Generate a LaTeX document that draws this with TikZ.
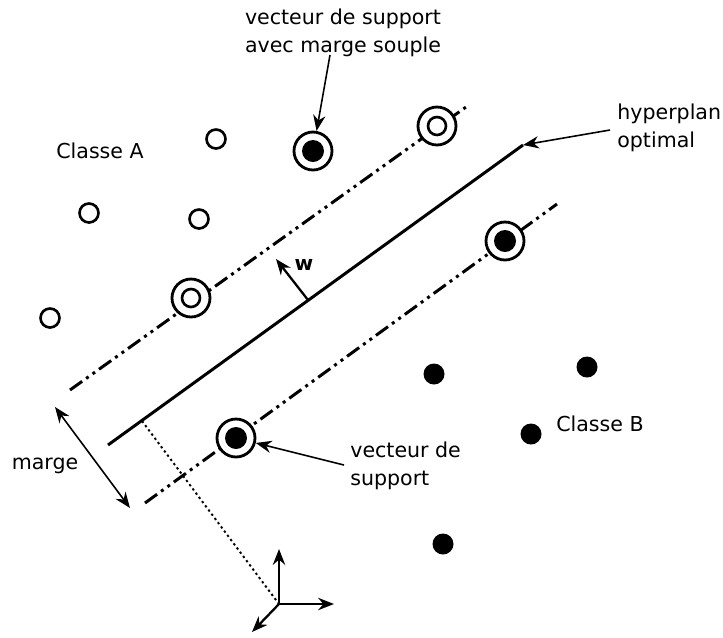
\documentclass[tikz,border=0pt]{standalone}
\usepackage{fontspec}
\setmainfont{DejaVu Sans}
\usetikzlibrary{arrows.meta}
\begin{document}
\begin{tikzpicture}[x=0.02cm,y=-0.02cm,
  lbl/.style={font=\fontsize{11.7}{16}\selectfont, align=left, inner sep=0pt},
  svout/.style={circle, draw, line width=1.6pt, minimum size=0.76cm, inner sep=0pt},
  svin/.style={circle, draw, line width=1.5pt, minimum size=0.36cm, inner sep=0pt},
  svfill/.style={circle, fill, minimum size=0.44cm, inner sep=0pt},
  opn/.style={circle, draw, line width=1.5pt, minimum size=0.38cm, inner sep=0pt, fill=white},
  full/.style={circle, fill, minimum size=0.42cm, inner sep=0pt},
  marginline/.style={line width=1.7pt, dash pattern=on 8.5pt off 2.8pt on 1.7pt off 2.8pt on 1.7pt off 2.8pt},
  thinarrow/.style={-{Stealth[length=9pt,width=7pt]}, line width=0.9pt},
  axarrow/.style={-{Stealth[length=9pt,width=7pt]}, line width=1.3pt}]
\useasboundingbox (0,0) rectangle (723,637);
% lines
\coordinate (u1) at (70,390); \coordinate (u2) at (466,107);
\coordinate (h1) at (108,445); \coordinate (h2) at (523,145);
\coordinate (l1) at (145,503); \coordinate (l2) at (557,204);
\draw[marginline] (u1) -- (u2);
\draw[marginline] (l1) -- (l2);
\draw[line width=1.7pt] (h1) -- (h2);
% dotted perpendicular
\coordinate (d1) at (142,421);
\coordinate (o) at (279,604);
\draw[line width=1.1pt, dash pattern=on 1.3pt off 1.7pt] (d1) -- (o);
% w
\coordinate (wb) at (308,300); \coordinate (wt) at (276,259);
\draw[axarrow] (wb) -- (wt);
\node[font=\fontsize{11.5}{12}\selectfont\bfseries, inner sep=0pt] (w) at (304,265) {w};
% support vectors
\node[svout, fill=white] (sa1) at (191,298) {};
\node[svin] (sa1i) at (191,298) {};
\node[svout, fill=white] (sa2) at (437,126) {};
\node[svin] (sa2i) at (437,126) {};
\node[svout, fill=white] (sb1) at (236,438) {};
\node[svfill] (sb1i) at (236,438) {};
\node[svout, fill=white] (sb2) at (505,241) {};
\node[svfill] (sb2i) at (505,241) {};
\node[svout, fill=white] (ss) at (313,151) {};
\node[svfill] (ssi) at (313,151) {};
% class A points
\node[opn] (a1) at (216,139) {};
\node[opn] (a2) at (89,213) {};
\node[opn] (a3) at (199,219) {};
\node[opn] (a4) at (50,318) {};
% class B points
\node[full] (b1) at (434,374) {};
\node[full] (b2) at (587,367) {};
\node[full] (b3) at (531,434) {};
\node[full] (b4) at (443,544) {};
% labels
\node[lbl, align=center] (tsoft) at (343,33) {vecteur de support\\avec marge souple};
\coordinate (tsoftp) at (330,55);
\draw[thinarrow] (tsoftp) -- (ss);
\node[lbl] (ca) at (100,151) {Classe A};
\node[lbl, anchor=west] (thyp) at (617,128) {hyperplan\\optimal};
\coordinate (thypp) at (610,130);
\draw[thinarrow] (thypp) -- (h2);
\node[lbl] (cb) at (600,424) {Classe B};
\node[lbl, anchor=west] (tsv) at (350,466) {vecteur de\\support};
\coordinate (tsvp) at (344,465);
\draw[thinarrow] (tsvp) -- (sb1);
\node[lbl] (marge) at (45,466) {marge};
\coordinate (m1) at (55,407); \coordinate (m2) at (130,508);
\draw[{Stealth[length=9pt,width=7pt]}-{Stealth[length=9pt,width=7pt]}, line width=0.9pt] (m1) -- (m2);
% axes
\coordinate (ay) at (279,549); \coordinate (ax) at (334,604); \coordinate (az) at (252,632);
\draw[axarrow] (o) -- (ay);
\draw[axarrow] (o) -- (ax);
\draw[axarrow] (o) -- (az);
\end{tikzpicture}
\end{document}
